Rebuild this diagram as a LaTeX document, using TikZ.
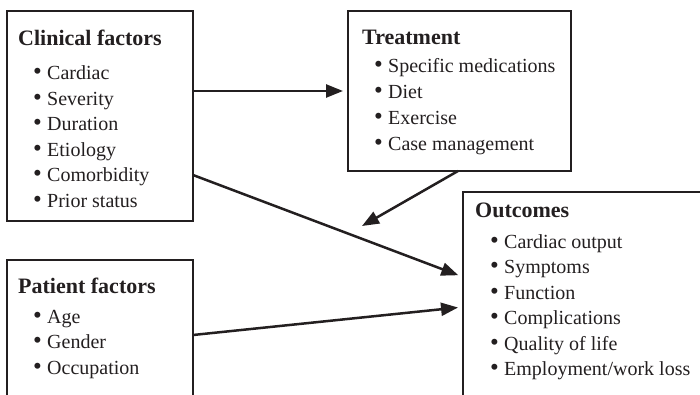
\documentclass[tikz,border=0pt]{standalone}
\usepackage{fontspec}
\setmainfont{Liberation Serif}
\usetikzlibrary{arrows.meta}
\definecolor{ink}{RGB}{35,31,32}
\newcommand\bul{\makebox[13pt][l]{\hspace*{-1pt}\raisebox{0pt}{\fontsize{25}{25}\selectfont\textbullet}}}
\begin{document}
\begin{tikzpicture}[x=1pt,y=-1pt,
  box/.style={draw=ink,line width=2.5pt,rectangle,inner sep=0pt,outer sep=0pt},
  ttl/.style={anchor=base west,inner sep=0pt,text=ink,font=\fontsize{22}{26}\selectfont\bfseries},
  itm/.style={anchor=base west,inner sep=0pt,text=ink,font=\fontsize{20}{24}\selectfont},
  arr/.style={draw=ink,line width=2.5pt,-{Triangle[length=17pt,width=13pt]},shorten >=5pt}]
\clip (0,0) rectangle (700,395);
\fill[white] (0,0) rectangle (700,395);

% boxes
\node[box,minimum width=186pt,minimum height=210pt] (clin) at (100,116) {};
\node[box,minimum width=223pt,minimum height=160pt] (treat) at (459.5,91) {};
\node[box,minimum width=257pt,minimum height=228pt] (out) at (591.5,306) {};
\node[box,minimum width=186pt,minimum height=160pt] (pat) at (100,340) {};

% clinical factors
\node[ttl] (ct) at (18,46) {Clinical factors};
\node[itm] (c1) at (34,80) {\bul Cardiac};
\node[itm] (c2) at (34,105.5) {\bul Severity};
\node[itm] (c3) at (34,131) {\bul Duration};
\node[itm] (c4) at (34,156.5) {\bul Etiology};
\node[itm] (c5) at (34,182) {\bul Comorbidity};
\node[itm] (c6) at (34,207.5) {\bul Prior status};

% treatment
\node[ttl] (tt) at (362,45) {Treatment};
\node[itm] (t1) at (375,73) {\bul Specific medications};
\node[itm] (t2) at (375,99) {\bul Diet};
\node[itm] (t3) at (375,125) {\bul Exercise};
\node[itm] (t4) at (375,151) {\bul Case management};

% outcomes
\node[ttl] (ot) at (475,218) {Outcomes};
\node[itm] (o1) at (491,248) {\bul Cardiac output};
\node[itm] (o2) at (491,273.5) {\bul Symptoms};
\node[itm] (o3) at (491,299) {\bul Function};
\node[itm] (o4) at (491,324.5) {\bul Complications};
\node[itm] (o5) at (491,350) {\bul Quality of life};
\node[itm] (o6) at (491,375.5) {\bul Employment/work loss};

% patient factors
\node[ttl] (pt) at (18,293) {Patient factors};
\node[itm] (p1) at (34,323) {\bul Age};
\node[itm] (p2) at (34,348.5) {\bul Gender};
\node[itm] (p3) at (34,374) {\bul Occupation};

% connectors
\coordinate (mod) at (362,226);
\draw[arr] (clin.east |- treat.west) -- (treat.west);
\draw[arr] ([yshift=-59pt]clin.east) -- ([yshift=29pt]out.west);
\draw[arr,shorten >=0pt] ([xshift=-1.5pt]treat.south) -- (mod);
\draw[arr] ([yshift=5pt]pat.east) -- ([yshift=-1pt]out.west);
\end{tikzpicture}
\end{document}
